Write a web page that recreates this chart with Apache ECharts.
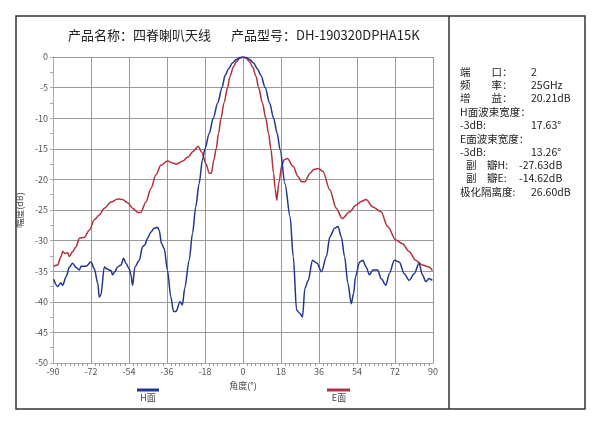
<!DOCTYPE html>
<html><head><meta charset="utf-8">
<script src="https://cdn.jsdelivr.net/npm/echarts@6/dist/echarts.min.js"></script>
<style>html,body{margin:0;padding:0;background:#fff}#c{width:600px;height:425px}</style>
</head><body><div id="c"></div>
<script>
const titleName = '产品名称：四脊喇叭天线';
const titleModel = '产品型号：DH-190320DPHA15K';
const seriesNames = ['H面', 'E面'];
const xAxisName = '角度(°)';
const yAxisName = '幅度(dB)';

const hAngles = [-89.7,-87.8,-86.2,-85.4,-83.8,-82.2,-80.7,-79.1,-77.5,-76.7,-74.4,-72,-70.4,-68.8,-68.1,-67.3,-65.7,-64.1,-62.5,-61.8,-60.7,-59.4,-57.8,-56.6,-55.5,-53.9,-53.1,-52.3,-51.2,-49.1,-47.6,-46.5,-45.2,-43.6,-42.1,-40.5,-39.7,-38.6,-37.3,-35.8,-34.2,-32.9,-31.8,-29.8,-28.7,-27.6,-25.5,-23.9,-22.4,-20.8,-19.2,-18.0,-16,-14.1,-12,-9.9,-8.5,-6.8,-5.0,-3.2,-1.5,0,1.5,3.2,5.0,6.8,8.5,10.5,12.6,14.5,16.2,17.6,19.9,22.3,23.8,25.4,27,28.2,29.3,30.9,32.9,35.1,37.2,39.5,41.1,43.4,45,46.6,48.1,49.7,51.3,52.4,53.3,55.2,56.8,58.3,59.9,61.5,63.8,65.4,67.7,69.3,71.7,74,76.4,78.7,81.1,83.4,85,86.6,88.1,89.7];
const hValues = [-36.3,-37.5,-36.9,-37.3,-35.9,-34.3,-33.7,-34.4,-34.8,-34.2,-34.2,-33.5,-34.6,-37.0,-39.2,-38.9,-34.3,-34.7,-34.9,-35.6,-35.1,-34.3,-34.0,-32.9,-33.7,-34.6,-35.6,-37.3,-34.3,-33.2,-31.0,-30.7,-29.6,-28.6,-28.0,-27.8,-28.3,-30.5,-31.3,-34.8,-39.2,-41.6,-41.6,-40.0,-40.5,-37.8,-33.2,-28.8,-24.5,-20.7,-16.8,-15.0,-12.5,-10,-7.5,-5,-3.0,-1.9,-1.0,-0.4,-0.1,0,-0.1,-0.4,-1.0,-1.9,-3.0,-5,-7.5,-10,-12.5,-15.2,-20.7,-26.1,-32.6,-41.4,-41.9,-42.5,-37.8,-36.5,-33.2,-33.7,-35.1,-32.6,-29.4,-28.0,-27.7,-29.4,-32.6,-37.0,-40.3,-38.6,-35.9,-33.5,-33.2,-34.3,-35.6,-34.8,-34.8,-36.2,-37.3,-35.4,-33.2,-33.5,-35.4,-36.5,-35.4,-33.7,-35.6,-36.7,-36.2,-36.5];

const eAngles = [-89.7,-87.8,-86.2,-85.4,-84.3,-83,-82.2,-80.7,-79.1,-77.5,-75.2,-72.8,-70.4,-68.1,-65.7,-62.5,-59.4,-57,-54.7,-52.3,-49.9,-48.4,-46,-43.6,-41.3,-38.9,-35.8,-33.4,-31.5,-28.5,-26.3,-23.5,-21.2,-19.5,-17.5,-16,-15,-13.8,-12.7,-11.6,-10.4,-9,-7.3,-6.2,-4.5,-3.0,-1.5,0,1.5,3.0,4.5,6.2,7.4,9.2,10.8,12.1,13.2,14.5,15.2,16,17,18.4,19.5,21,23.8,26,27.8,29.3,31.7,33.5,35.6,37.9,41.1,44.2,47,50.5,53.6,56,58.3,61.5,65.4,68.5,72.4,75.6,78.7,81.8,85,88.1,89.7];
const eValues = [-34.2,-34.0,-32.6,-31.8,-32.1,-32.0,-32.6,-31.8,-31.0,-29.6,-29.5,-28.3,-26.6,-25.8,-24.7,-23.7,-23.2,-23.3,-23.8,-24.7,-25.4,-25.4,-23.7,-21.5,-19.3,-17.7,-17.0,-17.3,-17.5,-17.0,-16.4,-15.4,-14.6,-15.6,-17.5,-19.0,-19.0,-16.8,-15,-12.5,-10,-7.5,-5,-3.2,-1.6,-0.7,-0.2,0,-0.2,-0.7,-1.6,-3.2,-5,-7.5,-10,-12.5,-15,-19,-21.5,-23.4,-20.5,-17.7,-16.8,-16.6,-17.9,-19.5,-20.4,-20.4,-19.0,-18.4,-18.2,-18.7,-21.7,-24.7,-26.4,-25.3,-24.2,-23.6,-23.3,-24.5,-25.3,-27.7,-29.9,-30.5,-31.8,-33.2,-34.0,-34.3,-34.9];

const infoLabels = ['端　　口：','频　　率：','增　　益：','H面波束宽度：','-3dB:','E面波束宽度：','-3dB:','副　瓣H:','副　瓣E:','极化隔离度:'];
const infoValues = ['2','25GHz','20.21dB','','17.63°','','13.26°','-27.63dB','-14.62dB','26.60dB'];
const infoRows = [72,85,98,112,125,139,152,165,178,192];

const BLUE = '#22358f', RED = '#b3303f';
const FONT = '"Noto Sans CJK SC", "Noto Sans", sans-serif';

function pairs(a, v) { return a.map((x, i) => [x, v[i]]); }

const graphics = [
  { type: 'rect', shape: { x: 16, y: 16, width: 569, height: 393 }, style: { fill: 'none', stroke: '#333', lineWidth: 1.5 }, silent: true },
  { type: 'line', shape: { x1: 449, y1: 16, x2: 449, y2: 409 }, style: { stroke: '#333', lineWidth: 1.5 }, silent: true },
  { type: 'text', left: 68, top: 29, style: { text: titleName, font: '13px ' + FONT, fill: '#222' } },
  { type: 'text', left: 231, top: 29, style: { text: titleModel, font: '13px ' + FONT, fill: '#222' } },
  { type: 'line', shape: { x1: 137, y1: 390, x2: 159, y2: 390 }, style: { stroke: BLUE, lineWidth: 3 } },
  { type: 'text', x: 148, y: 398, style: { text: seriesNames[0], font: '9px ' + FONT, fill: '#444', align: 'center', verticalAlign: 'middle' } },
  { type: 'line', shape: { x1: 327, y1: 390, x2: 350, y2: 390 }, style: { stroke: RED, lineWidth: 3 } },
  { type: 'text', x: 339, y: 398, style: { text: seriesNames[1], font: '9px ' + FONT, fill: '#444', align: 'center', verticalAlign: 'middle' } }
];
infoLabels.forEach((t, i) => {
  const indent = t.startsWith('副') ? 466 : 460;
  graphics.push({ type: 'text', x: indent, y: infoRows[i], style: { text: t, font: '10.5px ' + FONT, fill: '#222', verticalAlign: 'middle' } });
  if (infoValues[i]) {
    const vx = infoValues[i].startsWith('-') ? 519 : 531;
    graphics.push({ type: 'text', x: vx, y: infoRows[i], style: { text: infoValues[i], font: '10.5px ' + FONT, fill: '#222', verticalAlign: 'middle' } });
  }
});

const chart = echarts.init(document.getElementById('c'), null, { renderer: 'canvas' });
chart.setOption({
  backgroundColor: '#fff',
  animation: false,
  textStyle: { fontFamily: FONT },
  grid: { left: 53, top: 57, width: 380, height: 306, containLabel: false },
  xAxis: {
    type: 'value', min: -90, max: 90, interval: 18,
    name: xAxisName, nameLocation: 'middle', nameGap: 18,
    nameTextStyle: { fontSize: 9, color: '#444' },
    axisLine: { show: true, onZero: false, lineStyle: { color: '#aaa', width: 1 } },
    axisTick: { show: false },
    minorTick: { show: true, splitNumber: 9, length: 3, lineStyle: { color: '#999' } },
    axisLabel: { fontSize: 9, color: '#555', margin: 4 },
    splitLine: { show: true, lineStyle: { color: '#999', width: 1 } }
  },
  yAxis: {
    type: 'value', min: -50, max: 0, interval: 5,
    name: yAxisName, nameLocation: 'middle', nameGap: 23, nameRotate: 90,
    nameTextStyle: { fontSize: 9, color: '#444' },
    axisLine: { show: true, onZero: false, lineStyle: { color: '#aaa', width: 1 } },
    axisTick: { show: true, length: 3, lineStyle: { color: '#aaa' } },
    minorTick: { show: true, splitNumber: 2, length: 3, lineStyle: { color: '#aaa' } },
    axisLabel: { fontSize: 9, color: '#555', margin: 5 },
    splitLine: { show: true, lineStyle: { color: '#999', width: 1 } }
  },
  graphic: graphics,
  series: [
    { name: seriesNames[0], type: 'line', data: pairs(hAngles, hValues), showSymbol: false, smooth: 0.3, smoothMonotone: 'x', lineStyle: { color: BLUE, width: 1.5 }, itemStyle: { color: BLUE }, z: 3 },
    { name: seriesNames[1], type: 'line', data: pairs(eAngles, eValues), showSymbol: false, smooth: 0.3, smoothMonotone: 'x', lineStyle: { color: RED, width: 1.5 }, itemStyle: { color: RED }, z: 2 }
  ]
});
</script>
</body></html>
